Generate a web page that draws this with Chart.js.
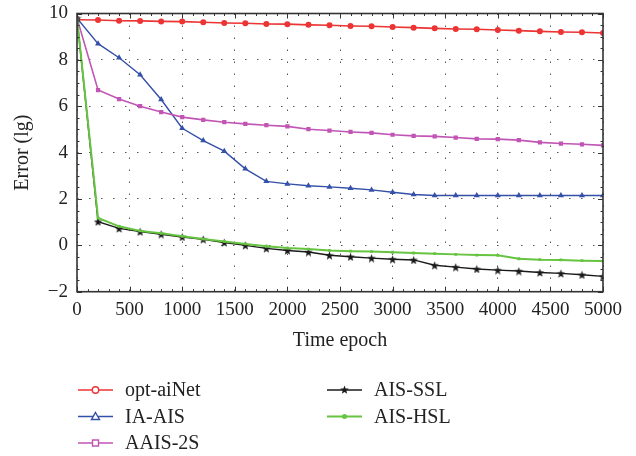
<!DOCTYPE html>
<html>
<head>
<meta charset="utf-8">
<script src="https://cdn.jsdelivr.net/npm/chart.js@4.4.0/dist/chart.umd.min.js"></script>
<style>
  html, body { margin: 0; padding: 0; background: #fff; }
</style>
</head>
<body>
<canvas id="chart" width="636" height="456"></canvas>
<script>
/* ─── DATA ───────────────────────────────────────────── */
const epochs = [0, 200, 400, 600, 800, 1000, 1200, 1400, 1600, 1800, 2000, 2200, 2400,
                2600, 2800, 3000, 3200, 3400, 3600, 3800, 4000, 4200, 4400, 4600, 4800, 5000]

const optAiNet = [9.73, 9.72, 9.69, 9.68, 9.66, 9.65, 9.62, 9.59, 9.58, 9.55, 9.54, 9.51, 9.49,
                  9.46, 9.45, 9.42, 9.39, 9.36, 9.33, 9.32, 9.29, 9.26, 9.23, 9.20, 9.19, 9.16]
const iaAis    = [9.80, 8.70, 8.09, 7.36, 6.29, 5.05, 4.52, 4.06, 3.30, 2.76, 2.65, 2.57, 2.52,
                  2.46, 2.39, 2.29, 2.19, 2.15, 2.15, 2.15, 2.15, 2.15, 2.15, 2.15, 2.15, 2.15]
const aais2s   = [9.80, 6.70, 6.31, 6.00, 5.75, 5.53, 5.41, 5.31, 5.24, 5.18, 5.13, 5.01, 4.95,
                  4.89, 4.85, 4.77, 4.72, 4.70, 4.65, 4.59, 4.58, 4.54, 4.44, 4.39, 4.36, 4.31]
const aisSsl   = [9.80, 1.02, 0.73, 0.59, 0.48, 0.36, 0.26, 0.12, 0.00, -0.13, -0.22, -0.29, -0.43,
                  -0.49, -0.55, -0.60, -0.63, -0.86, -0.94, -1.02, -1.07, -1.11, -1.17, -1.21, -1.27, -1.34]
const aisHsl   = [9.80, 1.18, 0.82, 0.62, 0.52, 0.39, 0.27, 0.17, 0.06, -0.04, -0.12, -0.16, -0.22,
                  -0.25, -0.27, -0.30, -0.33, -0.36, -0.39, -0.42, -0.43, -0.58, -0.62, -0.63, -0.66, -0.68]

const seriesNames = ['opt-aiNet', 'IA-AIS', 'AAIS-2S', 'AIS-SSL', 'AIS-HSL']

/* ─── STYLE ──────────────────────────────────────────── */
const FONT = '"Liberation Serif", "Times New Roman", serif'
const INK  = '#333'
const COLORS = ['#ec3434', '#3450a8', '#c155b5', '#1a1a1a', '#66c441']

/** small filled 5-point star used as the AIS-SSL marker */
const makeStar = (size, color) => {
  const c = document.createElement('canvas')
  c.width = size; c.height = size
  const g = c.getContext('2d')
  const r = size / 2, ri = r * 0.42
  g.fillStyle = color
  g.beginPath()
  for (let i = 0; i < 10; i++) {
    const a = -Math.PI / 2 + i * Math.PI / 5
    const rr = i % 2 ? ri : r
    g.lineTo(r + rr * Math.cos(a), r + 0.5 + rr * Math.sin(a))
  }
  g.closePath()
  g.fill()
  return c
}
const STAR = makeStar(9, COLORS[3])

const pts = vals => vals.map((v, i) => ({ x: epochs[i], y: v }))

const fmtTick = v => v < 0 ? '\u2212' + Math.abs(v) : String(v)

/* ─── PLUGINS ────────────────────────────────────────── */

// box round the plot with inward major/minor tick marks on all four sides
const framePlugin = {
  id: 'frame',
  afterDatasetsDraw(chart) {
    const { ctx, chartArea: a, scales: { x, y } } = chart
    ctx.save()
    ctx.strokeStyle = INK
    ctx.lineWidth = 1
    for (let v = 0; v <= 5000; v += 100) {
      const px = Math.round(x.getPixelForValue(v)) + 0.5
      const len = v % 500 === 0 ? 5 : 2.5
      ctx.beginPath()
      ctx.moveTo(px, a.bottom); ctx.lineTo(px, a.bottom - len)
      ctx.moveTo(px, a.top);    ctx.lineTo(px, a.top + len)
      ctx.stroke()
    }
    for (let v = -2; v <= 10; v += 0.5) {
      const py = Math.round(y.getPixelForValue(v)) + 0.5
      const len = v % 2 === 0 ? 5 : 2.5
      ctx.beginPath()
      ctx.moveTo(a.left, py);  ctx.lineTo(a.left + len, py)
      ctx.moveTo(a.right, py); ctx.lineTo(a.right - len, py)
      ctx.stroke()
    }
    ctx.lineWidth = 1.6
    ctx.strokeRect(a.left, a.top, a.right - a.left, a.bottom - a.top)
    ctx.restore()
  },
}

// legend in two columns under the axis title
const legendPlugin = {
  id: 'colLegend',
  afterDraw(chart) {
    const { ctx } = chart
    const slots = [[78, 390], [78, 416.5], [78, 443], [327, 390], [327, 416.5]]
    ctx.save()
    ctx.font = `20px ${FONT}`
    ctx.textBaseline = 'middle'
    seriesNames.forEach((name, i) => {
      const [lx, ly] = slots[i]
      const col = COLORS[i]
      const mx = lx + 17.5
      ctx.strokeStyle = col
      ctx.lineWidth = i === 4 ? 2 : 1.5
      ctx.beginPath(); ctx.moveTo(lx, ly); ctx.lineTo(lx + 35, ly); ctx.stroke()
      ctx.lineWidth = 1.4
      ctx.fillStyle = '#fff'
      ctx.beginPath()
      if (i === 0) { ctx.arc(mx, ly, 3.2, 0, Math.PI * 2); ctx.fill(); ctx.stroke() }
      if (i === 1) { ctx.moveTo(mx, ly - 4); ctx.lineTo(mx + 4, ly + 3); ctx.lineTo(mx - 4, ly + 3); ctx.closePath(); ctx.fill(); ctx.stroke() }
      if (i === 2) { ctx.rect(mx - 3, ly - 3, 6, 6); ctx.fill(); ctx.stroke() }
      if (i === 3) ctx.drawImage(STAR, mx - 4.5, ly - 5)
      if (i === 4) { ctx.fillStyle = col; ctx.arc(mx, ly, 2.5, 0, Math.PI * 2); ctx.fill() }
      ctx.fillStyle = '#222'
      ctx.fillText(name, lx + 47, ly + 1)
    })
    ctx.restore()
  },
}

/* ─── CHART ──────────────────────────────────────────── */
const styles = [
  { pointStyle: 'circle',   pointRadius: 3,   borderWidth: 1.6 },
  { pointStyle: 'triangle', pointRadius: 3.5, borderWidth: 1.4 },
  { pointStyle: 'rect',     pointRadius: 3,   borderWidth: 1.6 },
  { pointStyle: STAR,       pointRadius: 4,   borderWidth: 1.4 },
  { pointStyle: 'rect',     pointRadius: 2,   borderWidth: 2 },
]
const seriesVals = [optAiNet, iaAis, aais2s, aisSsl, aisHsl]

new Chart(document.getElementById('chart'), {
  type: 'line',
  data: {
    datasets: seriesVals.map((vals, i) => ({
      label: seriesNames[i],
      data: pts(vals),
      borderColor: COLORS[i],
      backgroundColor: COLORS[i],
      pointBorderWidth: 0,
      tension: 0,
      ...styles[i],
    })).reverse(),
  },
  options: {
    responsive: false,
    animation: false,
    layout: { padding: { left: 0, top: 13.5, right: 33, bottom: 104.3 } },
    plugins: { legend: { display: false }, tooltip: { enabled: false } },
    scales: {
      x: {
        type: 'linear', min: 0, max: 5000,
        afterFit: s => { s.height = 60; s.paddingLeft = 0; s.paddingRight = 0 },
        ticks: { stepSize: 500, padding: 7, color: '#222', font: { family: FONT, size: 19 }, callback: fmtTick, maxRotation: 0 },
        grid: { color: '#555', lineWidth: 1, drawTicks: false },
        border: { display: false, dash: [1.5, 10.5] },
        title: { display: true, text: 'Time epoch', color: '#222', font: { family: FONT, size: 20 }, padding: { top: 0, bottom: -1 } },
      },
      y: {
        min: -2, max: 10,
        afterFit: s => { s.width = 77; s.paddingTop = 0; s.paddingBottom = 0 },
        ticks: { stepSize: 2, padding: 9, color: '#222', font: { family: FONT, size: 19 }, callback: fmtTick },
        grid: { color: '#555', lineWidth: 1, drawTicks: false },
        border: { display: false, dash: [1.5, 10.5] },
        title: { display: true, text: 'Error (lg)', color: '#222', font: { family: FONT, size: 20 }, padding: { top: 11, bottom: 0 } },
      },
    },
  },
  plugins: [framePlugin, legendPlugin],
})
</script>
</body>
</html>
